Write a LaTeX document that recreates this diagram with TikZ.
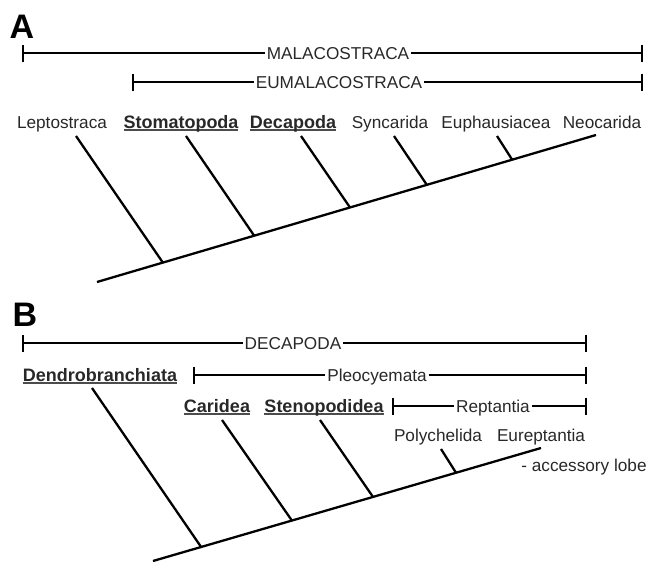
\documentclass[tikz,border=0pt]{standalone}
\usepackage{fontspec}
\setmainfont{Liberation Sans}
\usetikzlibrary{positioning,arrows.meta}
\definecolor{labelgray}{RGB}{40,40,40}
\newcommand{\taxul}[1]{\setbox0\hbox{#1}\rlap{\color{black!70}\rule[-2.6pt]{\wd0}{1.4pt}}\box0}

\begin{document}
\begin{tikzpicture}[x=1pt,y=-1pt,thick,
  font=\fontsize{17.2}{20}\selectfont,
  taxon/.style={inner sep=1.5pt,text height=12.5pt,text depth=0pt,text=labelgray},
  keytaxon/.style={taxon,font=\fontsize{18}{20}\selectfont\bfseries},
  panel/.style={font=\fontsize{34}{36}\selectfont\bfseries},
  cladeL/.style={line width=2.3pt,{Bar[width=17pt]}-},
  cladeR/.style={line width=2.3pt,-{Bar[width=17pt]}},
  branch/.style={line width=2.3pt}]
  \useasboundingbox (0,0) rectangle (649,562);

  % panel A
  \node[panel] (A) at (22,27) {A};

  \coordinate (malL) at (22,53);
  \coordinate (malR) at (643,53);
  \node[taxon] (mal) at (338,53) {MALACOSTRACA};
  \draw[cladeL] (malL) -- (mal.west);
  \draw[cladeR] (mal.east) -- (malR);

  \coordinate (eumL) at (132,82);
  \coordinate (eumR) at (643,82);
  \node[taxon] (eum) at (339,82) {EUMALACOSTRACA};
  \draw[cladeL] (eumL) -- (eum.west);
  \draw[cladeR] (eum.east) -- (eumR);

  \node[taxon] (lep) at (62,122) {Leptostraca};
  \node[keytaxon] (sto) at (181,122) {\taxul{Stomatopoda}};
  \node[keytaxon] (dec) at (293,122) {\taxul{Decapoda}};
  \node[taxon] (syn) at (390,122) {Syncarida};
  \node[taxon] (eup) at (496,122) {Euphausiacea};
  \node[taxon] (neo) at (602,122) {Neocarida};

  \coordinate (rootA) at (97,282);
  \coordinate (tNeo) at (596,135);
  \draw[branch] (rootA) -- (tNeo);
  \path (rootA) -- (tNeo)
    coordinate[pos=.132] (jLep) coordinate[pos=.315] (jSto) coordinate[pos=.507] (jDec)
    coordinate[pos=.661] (jSyn) coordinate[pos=.832] (jEup);
  \foreach \t/\x in {Lep/76,Sto/186,Dec/301,Syn/394,Eup/497}{
    \coordinate (t\t) at (\x,136);
    \draw[branch] (t\t) -- (j\t);
  }

  % panel B
  \node[panel] (B) at (25,315) {B};

  \coordinate (decL) at (22,343);
  \coordinate (decR) at (587,343);
  \node[taxon] (deca) at (293,343) {DECAPODA};
  \draw[cladeL] (decL) -- (deca.west);
  \draw[cladeR] (deca.east) -- (decR);

  \node[keytaxon] (den) at (100,375) {\taxul{Dendrobranchiata}};
  \coordinate (pleL) at (193,375);
  \coordinate (pleR) at (587,375);
  \node[taxon] (ple) at (377,375) {Pleocyemata};
  \draw[cladeL] (pleL) -- (ple.west);
  \draw[cladeR] (ple.east) -- (pleR);

  \node[keytaxon] (car) at (217,406) {\taxul{Caridea}};
  \node[keytaxon] (ste) at (324,406) {\taxul{Stenopodidea}};
  \coordinate (repL) at (392,406);
  \coordinate (repR) at (587,406);
  \node[taxon] (rep) at (493,406) {Reptantia};
  \draw[cladeL] (repL) -- (rep.west);
  \draw[cladeR] (rep.east) -- (repR);

  \node[taxon] (pol) at (438,435) {Polychelida};
  \node[taxon] (eur) at (541,435) {Eureptantia};
  \node[taxon] (lobe) at (584,465) {- accessory lobe};

  \coordinate (rootB) at (153,561);
  \coordinate (tEur) at (541,448);
  \draw[branch] (rootB) -- (tEur);
  \path (rootB) -- (tEur)
    coordinate[pos=.124] (jDen) coordinate[pos=.358] (jCar)
    coordinate[pos=.567] (jSte) coordinate[pos=.781] (jPol);
  \foreach \t/\x/\y in {Den/92/388,Car/222/420,Ste/320/420,Pol/441/449}{
    \coordinate (t\t) at (\x,\y);
    \draw[branch] (t\t) -- (j\t);
  }
\end{tikzpicture}
\end{document}
